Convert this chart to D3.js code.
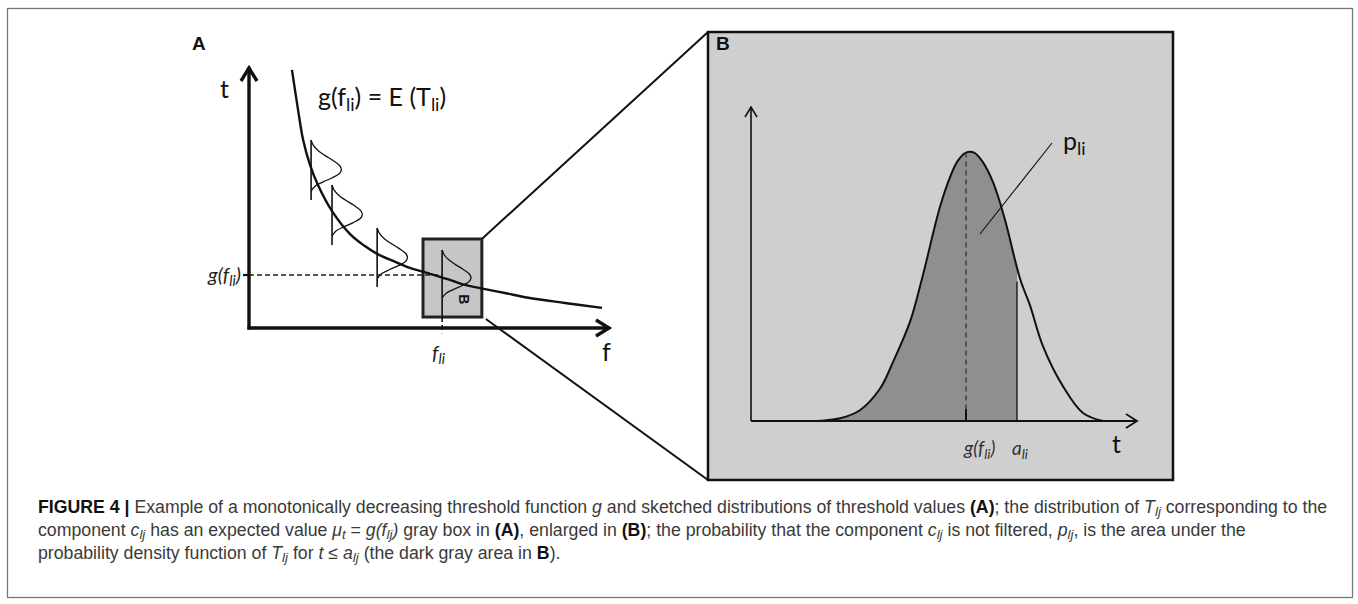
<!DOCTYPE html>
<html><head><meta charset="utf-8">
<script src="https://cdn.jsdelivr.net/npm/d3@7"></script>
<style>html,body{margin:0;padding:0;background:#fff;} svg{display:block;}</style>
</head><body>
<svg id="c" width="1358" height="604"></svg>
<script>
// ---------- data ----------
// Panel A: threshold function g(f)
const gCurveF = [1.19, 1.36, 1.50, 1.69, 1.91, 2.30, 2.80, 3.21, 3.55, 3.99, 4.46, 4.93, 5.48, 5.98, 6.40, 7.09, 7.78, 8.75, 9.78];
const gCurveT = [9.89, 8.35, 7.20, 6.25, 5.48, 4.48, 3.60, 3.14, 2.84, 2.57, 2.30, 2.11, 1.88, 1.65, 1.53, 1.34, 1.15, 0.96, 0.77];
// sketched distributions along the curve
const distF      = [1.72, 2.30, 3.55, 5.35];
const distTop    = [7.20, 5.48, 3.83, 2.99];
const distBottom = [4.90, 3.18, 1.57, 0.44];
const distSpan   = [1.95, 1.95, 1.95, 1.84];
const distPeak   = [0.84, 0.84, 0.84, 0.80];
const lobeU = [0, 0.1, 0.2, 0.3, 0.4, 0.5, 0.58, 0.66, 0.74, 0.82, 0.9, 1];
const lobeW = [0, 0.07, 0.22, 0.45, 0.72, 0.94, 1.0, 0.93, 0.7, 0.4, 0.14, 0];
const fLi = 5.35, gLi = 2.03;
const boxF = [4.82, 6.45], boxT = [0.42, 3.41];
// Panel B: density of T_li
const pdfT = [1.71, 2.31, 2.82, 3.34, 3.68, 4.12, 4.43, 4.90, 5.16, 5.36, 5.57, 5.78, 5.98, 6.27, 6.58, 6.97, 7.23, 7.56, 8.08, 8.60, 9.12];
const pdfD = [0.00, 0.01, 0.04, 0.12, 0.22, 0.37, 0.53, 0.80, 0.91, 0.97, 1.00, 1.00, 0.97, 0.89, 0.75, 0.53, 0.43, 0.28, 0.13, 0.03, 0.00];
const muT = 5.57, aT = 6.89, aTop = 0.52;
// caption lines
const capLine1 = [["FIGURE 4 |","b"],[" Example of a monotonically decreasing threshold function ",""],["g","i"],[" and sketched distributions of threshold values ",""],["(A)","b"],["; the distribution of ",""],["T","i"],["lj","isub"],[" corresponding to the",""]];
const capLine2 = [["component ",""],["c","i"],["lj","isub"],[" has an expected value ",""],["μ","i"],["t","isub"],[" = ",""],["g(f","i"],["lj","isub"],[")","i"],[" gray box in ",""],["(A)","b"],[", enlarged in ",""],["(B)","b"],["; the probability that the component ",""],["c","i"],["lj","isub"],[" is not filtered, ",""],["p","i"],["lj","isub"],[", is the area under the",""]];
const capLine3 = [["probability density function of ",""],["T","i"],["lj","isub"],[" for ",""],["t","i"],[" ≤ ",""],["a","i"],["lj","isub"],[" (the dark gray area in ",""],["B","b"],[").",""]];

// ---------- drawing ----------
const svg = d3.select("#c");
const FIG = "Lato, 'Open Sans', sans-serif";

function rich(parent, x, y, segs, size, opt) {
  opt = opt || {};
  const t = parent.append("text").attr("x", x).attr("y", y)
    .attr("font-size", size).attr("font-family", opt.family || FIG)
    .attr("fill", opt.fill || "#111").attr("text-anchor", opt.anchor || "start");
  let shifted = false;
  const sh = opt.shift || 4;
  segs.forEach(([s, st]) => {
    const ts = t.append("tspan").text(s);
    if (st === "b") ts.attr("font-weight", "bold").attr("fill", opt.boldFill || "#111");
    if (st === "i" || st === "isub") ts.attr("font-style", "italic");
    if (st === "sub" || st === "isub") { ts.attr("dy", shifted ? 0 : sh).attr("font-size", (opt.subScale || 0.72) + "em"); shifted = true; }
    else if (shifted) { ts.attr("dy", -sh); shifted = false; }
  });
  return t;
}
function chevron(g, x, y, dir, len, half, w) {
  let p;
  if (dir === "up") p = [[x - half, y + len], [x, y], [x + half, y + len]];
  else p = [[x - len, y - half], [x, y], [x - len, y + half]];
  g.append("path").attr("d", d3.line()(p)).attr("fill", "none")
    .attr("stroke", "#111").attr("stroke-width", w).attr("stroke-linejoin", "miter");
}

// outer frame
svg.append("rect").attr("x", 7.5).attr("y", 8.5).attr("width", 1345).attr("height", 589)
  .attr("fill", "none").attr("stroke", "#777").attr("stroke-width", 1.3);

// ----- panel A -----
const xA = d3.scaleLinear().domain([0, 10]).range([249, 610]);
const yA = d3.scaleLinear().domain([0, 10]).range([328, 67]);
const gA = svg.append("g");

const bL = 708, bT = 32, bR = 1173, bB = 480;
gA.append("line").attr("x1", xA(boxF[1])).attr("y1", yA(boxT[1])).attr("x2", bL).attr("y2", bT)
  .attr("stroke", "#111").attr("stroke-width", 2);
gA.append("line").attr("x1", xA(boxF[1]) + 4).attr("y1", yA(boxT[0]) + 2).attr("x2", bL).attr("y2", bB)
  .attr("stroke", "#111").attr("stroke-width", 2);

gA.append("rect").attr("x", xA(boxF[0])).attr("y", yA(boxT[1]))
  .attr("width", xA(boxF[1]) - xA(boxF[0])).attr("height", yA(boxT[0]) - yA(boxT[1]))
  .attr("fill", "#c6c6c6").attr("stroke", "#222").attr("stroke-width", 3);

gA.append("line").attr("x1", xA(0)).attr("x2", xA(fLi)).attr("y1", yA(gLi)).attr("y2", yA(gLi))
  .attr("stroke", "#222").attr("stroke-width", 1.4).attr("stroke-dasharray", "5,3");
gA.append("line").attr("x1", xA(0) - 6).attr("x2", xA(0)).attr("y1", yA(gLi)).attr("y2", yA(gLi))
  .attr("stroke", "#111").attr("stroke-width", 2.2);

const gPts = gCurveF.map((f, i) => [f, gCurveT[i]]);
gA.append("path").attr("d", d3.line().x(d => xA(d[0])).y(d => yA(d[1])).curve(d3.curveCatmullRom)(gPts))
  .attr("fill", "none").attr("stroke", "#111").attr("stroke-width", 2.4);

distF.forEach((f, i) => {
  gA.append("line").attr("x1", xA(f)).attr("x2", xA(f)).attr("y1", yA(distTop[i])).attr("y2", yA(distBottom[i]))
    .attr("stroke", "#111").attr("stroke-width", 1.6);
  const lobe = lobeU.map((u, k) => [f + lobeW[k] * distPeak[i], distTop[i] - u * distSpan[i]]);
  gA.append("path").attr("d", d3.line().x(d => xA(d[0])).y(d => yA(d[1])).curve(d3.curveCatmullRom)(lobe))
    .attr("fill", "none").attr("stroke", "#111").attr("stroke-width", 1.3);
});
gA.append("line").attr("x1", xA(fLi)).attr("x2", xA(fLi)).attr("y1", yA(boxT[0])).attr("y2", yA(-0.2))
  .attr("stroke", "#111").attr("stroke-width", 1.6).attr("stroke-dasharray", "5,3");

gA.append("line").attr("x1", xA(0)).attr("x2", xA(0)).attr("y1", yA(0) + 1.6).attr("y2", yA(10))
  .attr("stroke", "#111").attr("stroke-width", 3.4);
gA.append("line").attr("x1", xA(0) - 1.6).attr("x2", xA(10)).attr("y1", yA(0)).attr("y2", yA(0))
  .attr("stroke", "#111").attr("stroke-width", 3.4);
chevron(gA, xA(0), yA(10) + 1, "up", 13, 8, 3.4);
chevron(gA, xA(10) - 1, yA(0), "right", 13, 8, 3.4);

svg.append("text").attr("x", 192).attr("y", 50).text("A").attr("font-family", "'Liberation Sans', Arial, sans-serif")
  .attr("font-weight", "bold").attr("font-size", 19).attr("fill", "#111");
rich(svg, 220, 98, [["t", ""]], 25);
rich(svg, 602, 361, [["f", ""]], 25);
rich(svg, 318, 106, [["g(f", ""], ["li", "sub"], [") = E (T", ""], ["li", "sub"], [")", ""]], 25, {shift: 5});
rich(svg, 241, 282, [["g(f", "i"], ["li", "isub"], [")", "i"]], 20, {anchor: "end", fill: "#222"});
rich(svg, 432, 360, [["f", "i"], ["li", "isub"]], 20, {fill: "#222"});
svg.append("text").attr("transform", `translate(${xA(5.95)},${yA(1.1)}) rotate(90)`)
  .attr("text-anchor", "middle").attr("dominant-baseline", "central")
  .attr("font-family", "'Liberation Sans', Arial, sans-serif").attr("font-weight", "bold")
  .attr("font-size", 14).attr("fill", "#111").text("B");

// ----- panel B -----
const xB = d3.scaleLinear().domain([0, 10]).range([751, 1137]);
const yB = d3.scaleLinear().domain([0, 1.17]).range([421, 107]);
const gB = svg.append("g");
gB.append("rect").attr("x", bL).attr("y", bT).attr("width", bR - bL).attr("height", bB - bT)
  .attr("fill", "#cfcfcf").attr("stroke", "#111").attr("stroke-width", 2.5);
svg.append("text").attr("x", 716).attr("y", 50).text("B").attr("font-family", "'Liberation Sans', Arial, sans-serif")
  .attr("font-weight", "bold").attr("font-size", 19).attr("fill", "#111");

const pdfPts = pdfT.map((t, i) => [t, pdfD[i]]);
gB.append("clipPath").attr("id", "clipA").append("rect")
  .attr("x", xB(0)).attr("y", yB(1.17)).attr("width", xB(aT) - xB(0)).attr("height", yB(0) - yB(1.17));
gB.append("path").attr("clip-path", "url(#clipA)")
  .attr("d", d3.area().x(d => xB(d[0])).y0(yB(0)).y1(d => yB(d[1])).curve(d3.curveCatmullRom)(pdfPts))
  .attr("fill", "#8f8f8f");
gB.append("path").attr("d", d3.line().x(d => xB(d[0])).y(d => yB(d[1])).curve(d3.curveCatmullRom)(pdfPts))
  .attr("fill", "none").attr("stroke", "#111").attr("stroke-width", 2);
gB.append("line").attr("x1", xB(muT)).attr("x2", xB(muT)).attr("y1", yB(1.0)).attr("y2", yB(0))
  .attr("stroke", "#333").attr("stroke-width", 1.3).attr("stroke-dasharray", "5,4");
gB.append("line").attr("x1", xB(muT)).attr("x2", xB(muT)).attr("y1", yB(0) - 12).attr("y2", yB(0))
  .attr("stroke", "#111").attr("stroke-width", 2);
gB.append("line").attr("x1", xB(aT)).attr("x2", xB(aT)).attr("y1", yB(aTop)).attr("y2", yB(0))
  .attr("stroke", "#222").attr("stroke-width", 1.5);
gB.append("line").attr("x1", xB(0)).attr("x2", xB(0)).attr("y1", yB(0)).attr("y2", yB(1.17))
  .attr("stroke", "#111").attr("stroke-width", 1.6);
gB.append("line").attr("x1", xB(0)).attr("x2", xB(10)).attr("y1", yB(0)).attr("y2", yB(0))
  .attr("stroke", "#111").attr("stroke-width", 1.8);
chevron(gB, xB(0), yB(1.17), "up", 10, 6, 1.6);
chevron(gB, xB(10), yB(0), "right", 11, 7, 1.8);
gB.append("line").attr("x1", 1052).attr("y1", 143).attr("x2", 980).attr("y2", 234)
  .attr("stroke", "#111").attr("stroke-width", 1.1);
rich(svg, 1063, 150, [["p", ""], ["li", "sub"]], 25, {shift: 5});
rich(svg, 1112, 453, [["t", ""]], 25);
rich(svg, 964, 455, [["g(f", "i"], ["li", "isub"], [")", "i"]], 19, {fill: "#333"});
rich(svg, 1012, 455, [["a", "i"], ["li", "isub"]], 19, {fill: "#333"});

// ----- caption -----
const CAP = "'Liberation Sans Narrow', 'Arial Narrow', 'Liberation Sans', sans-serif";
const capOpt = {family: CAP, fill: "#3a3a3a", boldFill: "#111", shift: 3, subScale: 0.75};
const l1 = rich(svg, 38, 513, capLine1, 16, capOpt);
const w1 = l1.node().getComputedTextLength();
const fs = 16 * 1290 / w1;
l1.attr("font-size", fs);
rich(svg, 38, 536, capLine2, fs, capOpt);
rich(svg, 38, 559, capLine3, fs, capOpt);
</script>
</body></html>
